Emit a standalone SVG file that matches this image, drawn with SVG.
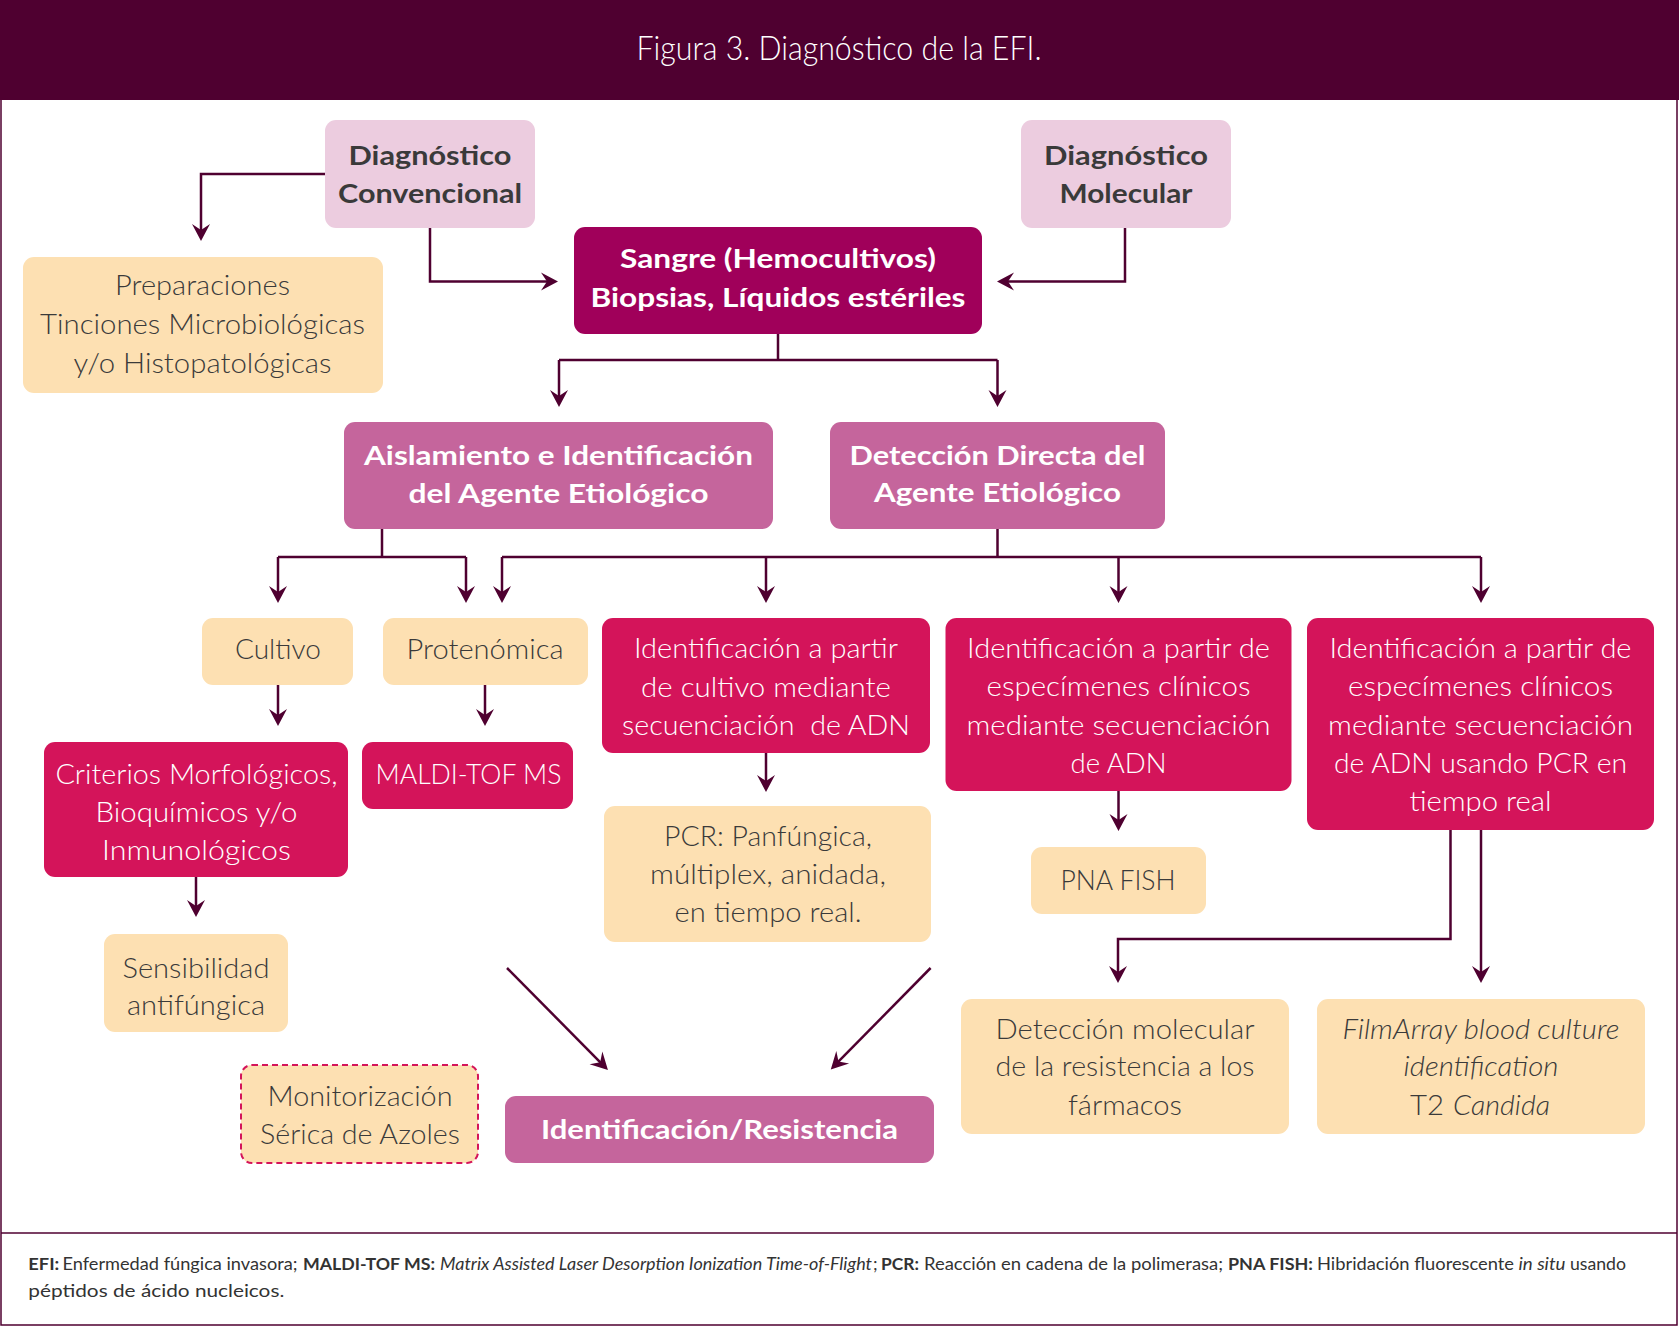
<svg xmlns="http://www.w3.org/2000/svg" width="1679" height="1327" viewBox="0 0 1679 1327">
<style>
.t{font-family:Lato,"Open Sans","Liberation Sans",sans-serif;text-anchor:middle}
.lt{font-weight:300;font-size:28px}
.bd{font-weight:700;font-size:27.5px}
.dk{fill:#3a3a3a}
.wh{fill:#ffffff}
.pale{fill:#ecccdf}
.plum{fill:#a0005a}
.mauve{fill:#c5659c}
.crim{fill:#d4145a}
.peach{fill:#fde0b2}
.con{fill:none;stroke:#4f0030;stroke-width:2.5;marker-end:url(#ah)}
.seg{fill:none;stroke:#4f0030;stroke-width:2.5}
.ft{font-family:Lato,"Open Sans","Liberation Sans",sans-serif;font-size:17.5px;fill:#333333}
.b{font-weight:700}
.i{font-style:italic}
</style>
<defs>
<marker id="ah" viewBox="-10 -10 20 20" markerWidth="20" markerHeight="20" refX="0" refY="0" orient="auto" markerUnits="userSpaceOnUse">
<path d="M8,0 L-9,-9 L-3,0 L-9,9 Z" fill="#4f0030"/>
</marker>
</defs>
<rect x="0" y="0" width="1679" height="1327" fill="#ffffff"/>
<g id="frame">
<rect x="0" y="0" width="1679" height="100" fill="#4f0030"/>
<path d="M1,100 V1325 H1677 V100" fill="none" stroke="#4f0030" stroke-width="1.5"/>
<line x1="1" y1="1233" x2="1677" y2="1233" stroke="#4f0030" stroke-width="1.5"/>
<text class="t" x="839" y="60" font-size="33" font-weight="300" fill="#ffffff" textLength="405" lengthAdjust="spacingAndGlyphs">Figura 3. Diagnóstico de la EFI.</text>
</g>
<g id="connectors">
<path class="con" d="M325,174 H201 V233"/>
<path class="con" d="M430,228 V281.5 H550"/>
<path class="con" d="M1125,228 V281.5 H1005"/>
<path class="seg" d="M778,334 V360 M559,360 H997.5"/>
<path class="con" d="M559,360 V399"/>
<path class="con" d="M997.5,360 V399"/>
<path class="seg" d="M382,529 V557 M278,557 H466"/>
<path class="con" d="M278,557 V595"/>
<path class="con" d="M466,557 V595"/>
<path class="seg" d="M997.5,529 V557 M502,557 H1481"/>
<path class="con" d="M502,557 V595"/>
<path class="con" d="M766,557 V595"/>
<path class="con" d="M1118.5,557 V595"/>
<path class="con" d="M1481,557 V595"/>
<path class="con" d="M278,685 V718"/>
<path class="con" d="M485,685 V718"/>
<path class="con" d="M766,753 V784"/>
<path class="con" d="M196,877 V909"/>
<path class="con" d="M1118.5,791 V823"/>
<path class="con" d="M1450.5,830 V939 H1118 V975"/>
<path class="con" d="M1481,830 V975"/>
<path class="con" d="M507,968 L602.3,1064.3"/>
<path class="con" d="M930.6,968 L836.4,1063.7"/>
</g>
<g id="n-conv"><rect class="pale" x="325" y="120" width="210" height="108" rx="11"/>
<text class="t bd dk"><tspan x="430" y="165" textLength="163" lengthAdjust="spacingAndGlyphs">Diagnóstico</tspan><tspan x="430" y="203" textLength="184" lengthAdjust="spacingAndGlyphs">Convencional</tspan></text></g>
<g id="n-mol"><rect class="pale" x="1021" y="120" width="210" height="108" rx="11"/>
<text class="t bd dk"><tspan x="1126" y="165" textLength="164" lengthAdjust="spacingAndGlyphs">Diagnóstico</tspan><tspan x="1126" y="203" textLength="133" lengthAdjust="spacingAndGlyphs">Molecular</tspan></text></g>
<g id="n-sangre"><rect class="plum" x="574" y="227" width="408" height="107" rx="11"/>
<text class="t bd wh"><tspan x="778" y="268" textLength="316" lengthAdjust="spacingAndGlyphs">Sangre (Hemocultivos)</tspan><tspan x="778" y="307" textLength="375" lengthAdjust="spacingAndGlyphs">Biopsias, Líquidos estériles</tspan></text></g>
<g id="n-prep"><rect class="peach" x="23" y="257" width="360" height="136" rx="11"/>
<text class="t lt dk"><tspan x="202.5" y="295" textLength="175" lengthAdjust="spacingAndGlyphs">Preparaciones</tspan><tspan x="202.5" y="334" textLength="325" lengthAdjust="spacingAndGlyphs">Tinciones Microbiológicas</tspan><tspan x="202.5" y="372.5" textLength="258" lengthAdjust="spacingAndGlyphs">y/o Histopatológicas</tspan></text></g>
<g id="n-aisl"><rect class="mauve" x="344" y="422" width="429" height="107" rx="11"/>
<text class="t bd wh"><tspan x="558.5" y="465" textLength="389" lengthAdjust="spacingAndGlyphs">Aislamiento e Identificación</tspan><tspan x="558.5" y="503" textLength="300" lengthAdjust="spacingAndGlyphs">del Agente Etiológico</tspan></text></g>
<g id="n-detec"><rect class="mauve" x="830" y="422" width="335" height="107" rx="11"/>
<text class="t bd wh"><tspan x="997.5" y="465" textLength="296" lengthAdjust="spacingAndGlyphs">Detección Directa del</tspan><tspan x="997.5" y="502" textLength="247" lengthAdjust="spacingAndGlyphs">Agente Etiológico</tspan></text></g>
<g id="n-cultivo"><rect class="peach" x="202" y="618" width="151" height="67" rx="11"/>
<text class="t lt dk" x="278" y="659" textLength="86" lengthAdjust="spacingAndGlyphs">Cultivo</text></g>
<g id="n-proteo"><rect class="peach" x="383" y="618" width="205" height="67" rx="11"/>
<text class="t lt dk" x="485" y="659" textLength="157" lengthAdjust="spacingAndGlyphs">Protenómica</text></g>
<g id="n-idcult"><rect class="crim" x="602" y="618" width="328" height="135" rx="11"/>
<text class="t lt wh"><tspan x="766" y="658" textLength="264" lengthAdjust="spacingAndGlyphs">Identificación a partir</tspan><tspan x="766" y="696.5" textLength="250" lengthAdjust="spacingAndGlyphs">de cultivo mediante</tspan><tspan x="766" y="735" textLength="288" lengthAdjust="spacingAndGlyphs">secuenciación&#160; de ADN</tspan></text></g>
<g id="n-idesp"><rect class="crim" x="945.5" y="618" width="346" height="173" rx="11"/>
<text class="t lt wh"><tspan x="1118.5" y="658" textLength="303" lengthAdjust="spacingAndGlyphs">Identificación a partir de</tspan><tspan x="1118.5" y="696" textLength="264" lengthAdjust="spacingAndGlyphs">especímenes clínicos</tspan><tspan x="1118.5" y="734.5" textLength="304" lengthAdjust="spacingAndGlyphs">mediante secuenciación</tspan><tspan x="1118.5" y="772.5" textLength="96" lengthAdjust="spacingAndGlyphs">de ADN</tspan></text></g>
<g id="n-idpcr"><rect class="crim" x="1307" y="618" width="347" height="212" rx="11"/>
<text class="t lt wh"><tspan x="1480.5" y="658" textLength="302" lengthAdjust="spacingAndGlyphs">Identificación a partir de</tspan><tspan x="1480.5" y="696" textLength="265" lengthAdjust="spacingAndGlyphs">especímenes clínicos</tspan><tspan x="1480.5" y="734.5" textLength="305" lengthAdjust="spacingAndGlyphs">mediante secuenciación</tspan><tspan x="1480.5" y="772.5" textLength="293" lengthAdjust="spacingAndGlyphs">de ADN usando PCR en</tspan><tspan x="1480.5" y="811" textLength="142" lengthAdjust="spacingAndGlyphs">tiempo real</tspan></text></g>
<g id="n-crit"><rect class="crim" x="44" y="742" width="304" height="135" rx="11"/>
<text class="t lt wh"><tspan x="196.5" y="783.5" textLength="282" lengthAdjust="spacingAndGlyphs">Criterios Morfológicos,</tspan><tspan x="196.5" y="821.5" textLength="202" lengthAdjust="spacingAndGlyphs">Bioquímicos y/o</tspan><tspan x="196.5" y="860" textLength="189" lengthAdjust="spacingAndGlyphs">Inmunológicos</tspan></text></g>
<g id="n-maldi"><rect class="crim" x="362" y="742" width="211" height="67" rx="11"/>
<text class="t lt wh" x="468.5" y="784" textLength="186" lengthAdjust="spacingAndGlyphs">MALDI-TOF MS</text></g>
<g id="n-pcr"><rect class="peach" x="604" y="806" width="327" height="136" rx="11"/>
<text class="t lt dk"><tspan x="768" y="846" textLength="208" lengthAdjust="spacingAndGlyphs">PCR: Panfúngica,</tspan><tspan x="768" y="884" textLength="236" lengthAdjust="spacingAndGlyphs">múltiplex, anidada,</tspan><tspan x="768" y="922" textLength="187" lengthAdjust="spacingAndGlyphs">en tiempo real.</tspan></text></g>
<g id="n-pna"><rect class="peach" x="1031" y="847" width="175" height="67" rx="11"/>
<text class="t lt dk" x="1118" y="889.5" textLength="115" lengthAdjust="spacingAndGlyphs">PNA FISH</text></g>
<g id="n-sens"><rect class="peach" x="104" y="934" width="184" height="98" rx="11"/>
<text class="t lt dk"><tspan x="196" y="977.5" textLength="147" lengthAdjust="spacingAndGlyphs">Sensibilidad</tspan><tspan x="196" y="1015" textLength="138" lengthAdjust="spacingAndGlyphs">antifúngica</tspan></text></g>
<g id="n-monit"><rect class="peach" x="241" y="1065" width="237" height="98" rx="11" stroke="#d4145a" stroke-width="2" stroke-dasharray="6 4"/>
<text class="t lt dk"><tspan x="360" y="1105.5" textLength="185" lengthAdjust="spacingAndGlyphs">Monitorización</tspan><tspan x="360" y="1143.5" textLength="200" lengthAdjust="spacingAndGlyphs">Sérica de Azoles</tspan></text></g>
<g id="n-idres"><rect class="mauve" x="505" y="1096" width="429" height="67" rx="11"/>
<text class="t bd wh" x="719.5" y="1138.5" textLength="357" lengthAdjust="spacingAndGlyphs">Identificación/Resistencia</text></g>
<g id="n-detmol"><rect class="peach" x="961" y="999" width="328" height="135" rx="11"/>
<text class="t lt dk"><tspan x="1125" y="1038.5" textLength="259" lengthAdjust="spacingAndGlyphs">Detección molecular</tspan><tspan x="1125" y="1076" textLength="259" lengthAdjust="spacingAndGlyphs">de la resistencia a los</tspan><tspan x="1125" y="1114.5" textLength="114" lengthAdjust="spacingAndGlyphs">fármacos</tspan></text></g>
<g id="n-film"><rect class="peach" x="1317" y="999" width="328" height="135" rx="11"/>
<text class="t lt dk"><tspan class="i" x="1481" y="1038.5" textLength="277" lengthAdjust="spacingAndGlyphs">FilmArray blood culture</tspan><tspan class="i" x="1481" y="1076" textLength="155" lengthAdjust="spacingAndGlyphs">identification</tspan></text>
<text class="lt dk" font-family="Lato,'Open Sans','Liberation Sans',sans-serif" y="1114.5"><tspan x="1410" textLength="34" lengthAdjust="spacingAndGlyphs">T2</tspan><tspan class="i" x="1453" textLength="97" lengthAdjust="spacingAndGlyphs">Candida</tspan></text></g>
<g id="footer">
<text class="ft" y="1270"><tspan class="b" x="28.3" textLength="31" lengthAdjust="spacingAndGlyphs">EFI:</tspan><tspan x="62.5" textLength="235" lengthAdjust="spacingAndGlyphs">Enfermedad fúngica invasora;</tspan><tspan class="b" x="303" textLength="132" lengthAdjust="spacingAndGlyphs">MALDI-TOF MS:</tspan><tspan class="i" x="440" textLength="432" lengthAdjust="spacingAndGlyphs">Matrix Assisted Laser Desorption Ionization Time-of-Flight</tspan><tspan x="873">;</tspan><tspan class="b" x="881" textLength="38" lengthAdjust="spacingAndGlyphs">PCR:</tspan><tspan x="924" textLength="299" lengthAdjust="spacingAndGlyphs">Reacción en cadena de la polimerasa;</tspan><tspan class="b" x="1228" textLength="85" lengthAdjust="spacingAndGlyphs">PNA FISH:</tspan><tspan x="1317" textLength="197" lengthAdjust="spacingAndGlyphs">Hibridación fluorescente</tspan><tspan class="i" x="1518.5" textLength="47" lengthAdjust="spacingAndGlyphs">in situ</tspan><tspan x="1570" textLength="56" lengthAdjust="spacingAndGlyphs">usando</tspan></text>
<text class="ft" x="28.3" y="1296.7" textLength="256" lengthAdjust="spacingAndGlyphs">péptidos de ácido nucleicos.</text>
</g>
</svg>
